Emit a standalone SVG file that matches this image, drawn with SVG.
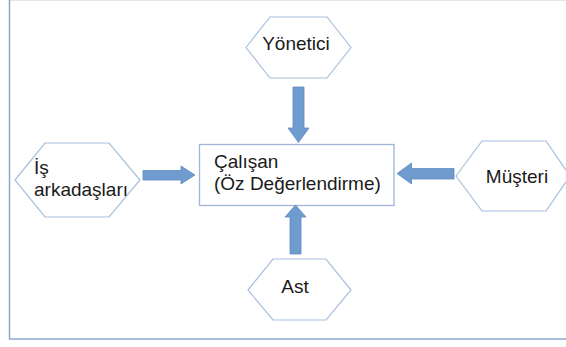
<svg xmlns="http://www.w3.org/2000/svg" width="566" height="347" viewBox="0 0 566 347">
<style>
.hex{fill:#ffffff;stroke:#a8bfdf;stroke-width:1.2}
.box{fill:#ffffff;stroke:#9fb6d6;stroke-width:1.3}
.arr{fill:#6f9bcf;stroke:#5f8bc0;stroke-width:0.8}
text{font-family:"Liberation Sans",Arial,sans-serif;font-size:19px;fill:#1a1a1a}
</style>
<rect width="566" height="347" fill="#ffffff"/>
<line x1="9" y1="0.5" x2="566" y2="0.5" stroke="#e6e6e6" stroke-width="1"/>
<polyline points="9.5,0 9.5,339 566,339" fill="none" stroke="#8ca7cf" stroke-width="1.5"/>
<g id="node-yonetici">
<polygon class="hex" points="246,47.5 270,17 327,17 351,47.5 327,78 270,78"/>
<text x="296" y="50" text-anchor="middle">Yönetici</text>
</g>
<g id="node-is-arkadaslari">
<polygon class="hex" points="15,180 45,143 109,143 140,180 109,217 45,217"/>
<text x="34" y="174">İş</text>
<text x="34" y="196">arkadaşları</text>
</g>
<g id="node-calisan">
<rect class="box" x="199.5" y="144.5" width="194.5" height="61"/>
<text x="214" y="168">Çalışan</text>
<text x="214" y="190">(Öz Değerlendirme)</text>
</g>
<g id="node-musteri">
<polygon class="hex" points="456,176 482,141 546,141 570,176 546,211 482,211"/>
<text x="517" y="183" text-anchor="middle">Müşteri</text>
</g>
<g id="node-ast">
<polygon class="hex" points="248,290 273,259 326,259 351,290 326,320 273,320"/>
<text x="295" y="293" text-anchor="middle">Ast</text>
</g>
<g id="connectors">
<polygon class="arr" points="293,87 304,87 304,128 309,128 298.5,142.5 288,128 293,128"/>
<polygon class="arr" points="290,254 301,254 301,217 306,217 295.5,205 285,217 290,217"/>
<polygon class="arr" points="143,170.5 181,170.5 181,166 195,175 181,184 181,180 143,180"/>
<polygon class="arr" points="454,168.5 411.5,168.5 411.5,163 397,173.5 411.5,184 411.5,179 454,179"/>
</g>
</svg>
